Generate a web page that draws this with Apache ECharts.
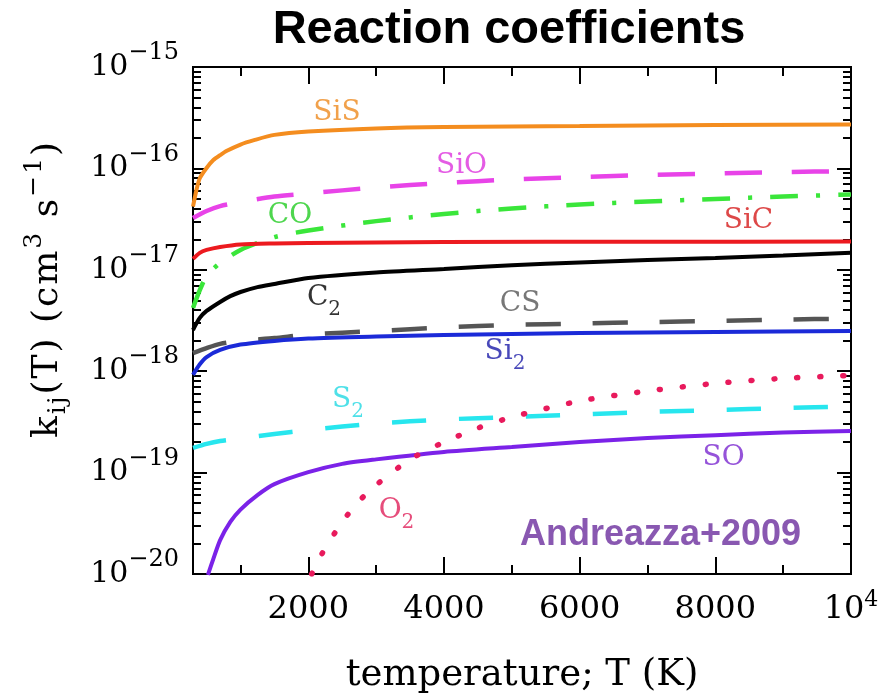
<!DOCTYPE html>
<html><head><meta charset="utf-8">
<script src="https://cdn.jsdelivr.net/npm/echarts@6/dist/echarts.min.js"></script>
<style>html,body{margin:0;padding:0;background:#fff}#c{width:885px;height:699px}</style>
</head><body><div id="c"></div>
<script>
// ---------- data ----------
const xMajorTicks = [2000, 4000, 6000, 8000, 10000];
const xMinorTicks = [1000, 3000, 5000, 7000, 9000];
const yDecades = [1e-20, 1e-19, 1e-18, 1e-17, 1e-16, 1e-15];
const yMinorMult = [2, 3, 4, 5, 6, 7, 8, 9];

const T_SiS = [300, 350, 400, 500, 600, 700, 800, 1000, 1200, 1500, 2000, 3000, 4000, 6000, 8000, 10000];
const k_SiS = [4.2e-17, 6.1e-17, 8.0e-17, 1.01e-16, 1.21e-16, 1.35e-16, 1.49e-16, 1.72e-16, 1.9e-16, 2.14e-16, 2.31e-16, 2.48e-16, 2.56e-16, 2.62e-16, 2.68e-16, 2.71e-16];

const T_SiO = [300, 500, 700, 1000, 1500, 2000, 3000, 4000, 5000, 6000, 7000, 8000, 9000, 10000];
const k_SiO = [3.24e-17, 3.8e-17, 4.25e-17, 4.66e-17, 5.28e-17, 5.66e-17, 6.49e-17, 7.18e-17, 7.77e-17, 8.22e-17, 8.6e-17, 8.9e-17, 9.2e-17, 9.4e-17];

const T_CO = [300, 400, 500, 700, 1000, 1500, 2000, 3000, 4000, 5000, 6000, 7000, 8000, 9000, 10000];
const k_CO = [4.2e-18, 6.3e-18, 8.7e-18, 1.17e-17, 1.57e-17, 2.1e-17, 2.44e-17, 3.02e-17, 3.55e-17, 4.03e-17, 4.41e-17, 4.72e-17, 5.0e-17, 5.28e-17, 5.53e-17];

const T_SiC = [300, 400, 500, 700, 1000, 1500, 2000, 4000, 7000, 10000];
const k_SiC = [1.28e-17, 1.47e-17, 1.57e-17, 1.68e-17, 1.78e-17, 1.82e-17, 1.84e-17, 1.88e-17, 1.89e-17, 1.9e-17];

const T_C2 = [300, 400, 500, 700, 850, 1000, 1250, 1500, 2000, 3000, 4000, 5000, 6000, 7000, 8000, 9000, 10000];
const k_C2 = [2.55e-18, 3.35e-18, 3.93e-18, 4.82e-18, 5.5e-18, 6.04e-18, 6.75e-18, 7.24e-18, 8.3e-18, 9.4e-18, 1.02e-17, 1.11e-17, 1.18e-17, 1.25e-17, 1.31e-17, 1.38e-17, 1.47e-17];

const T_CS = [300, 500, 700, 1000, 1500, 2000, 3000, 4000, 5000, 6000, 7000, 8000, 9000, 10000];
const k_CS = [1.51e-18, 1.69e-18, 1.86e-18, 1.99e-18, 2.12e-18, 2.3e-18, 2.49e-18, 2.7e-18, 2.86e-18, 2.95e-18, 3.05e-18, 3.13e-18, 3.23e-18, 3.3e-18];

const T_Si2 = [300, 400, 500, 700, 1000, 1500, 2000, 3000, 4000, 6000, 8000, 10000];
const k_Si2 = [9.2e-19, 1.17e-18, 1.38e-18, 1.62e-18, 1.83e-18, 1.99e-18, 2.1e-18, 2.2e-18, 2.28e-18, 2.38e-18, 2.44e-18, 2.49e-18];

const T_S2 = [300, 500, 700, 1000, 1500, 2000, 3000, 4000, 5000, 6000, 7000, 8000, 9000, 10000];
const k_S2 = [1.75e-19, 1.92e-19, 2.05e-19, 2.17e-19, 2.4e-19, 2.63e-19, 3.05e-19, 3.34e-19, 3.53e-19, 3.74e-19, 3.96e-19, 4.14e-19, 4.33e-19, 4.49e-19];

const T_SO = [520, 600, 700, 850, 1000, 1250, 1500, 2000, 2500, 3000, 4000, 5000, 6000, 7000, 8000, 9000, 10000];
const k_SO = [9.8e-21, 1.41e-20, 2.16e-20, 3.26e-20, 4.32e-20, 6.0e-20, 7.7e-20, 1.01e-19, 1.22e-19, 1.35e-19, 1.6e-19, 1.79e-19, 2.0e-19, 2.19e-19, 2.34e-19, 2.48e-19, 2.57e-19];

const T_O2 = [2050, 2200, 2500, 2750, 3000, 3500, 4000, 4500, 5000, 6000, 7000, 8000, 9000, 10000];
const k_O2 = [1.0e-20, 1.58e-20, 3.27e-20, 5.25e-20, 7.55e-20, 1.35e-19, 2.0e-19, 2.75e-19, 3.53e-19, 5.08e-19, 6.38e-19, 7.58e-19, 8.5e-19, 9.1e-19];

// curve labels (text, position in data space)
const labelText = ['SiS', 'SiO', 'CO', 'SiC', 'C{sub|2}', 'CS', 'Si{sub|2}', 'S{sub|2}', 'SO', 'O{sub|2}'];
const labelT = [2423, 4258, 1730, 8489, 2231, 5121, 4900, 2585, 8121, 3300];
const labelK = [3.52e-16, 1.06e-16, 3.4e-17, 3.03e-17, 5.27e-18, 4.6e-18, 1.55e-18, 5.2e-19, 1.39e-19, 4.18e-20];
const noteText = 'Andreazza+2009';
const noteT = 7192;
const noteK = 2.4e-20;

// axis titles, split into (style, text) pieces for super/subscripts
const xTitle = 'temperature; T (K)';
const yTitleParts = [['m', 'k'], ['sub', 'ij'], ['m', '(T)'], ['m', ' '], ['m', '(cm'], ['sup', '3'], ['m', ' '], ['m', 's'], ['sup', '\u22121'], ['m', ')']];

// ---------- styles ----------
const SERIF = 'DejaVu Serif';
const curveStyles = [
  {name: 'SiS', T: T_SiS, k: k_SiS, color: '#f48d1f', type: 'solid', width: 4, label: '#ee8a1e'},
  {name: 'SiO', T: T_SiO, k: k_SiO, color: '#e843e8', type: [37, 30], width: 4.5, label: '#dd33dd'},
  {name: 'CO', T: T_CO, k: k_CO, color: '#3ae63a', type: [28, 18, 4, 18], width: 4.5, label: '#22cc22'},
  {name: 'SiC', T: T_SiC, k: k_SiC, color: '#ec1a1f', type: 'solid', width: 4, label: '#d41a1a'},
  {name: 'C2', T: T_C2, k: k_C2, color: '#000000', type: 'solid', width: 4, label: '#000000'},
  {name: 'CS', T: T_CS, k: k_CS, color: '#555555', type: [35, 32], width: 4.5, label: '#555555'},
  {name: 'Si2', T: T_Si2, k: k_Si2, color: '#1b2ad8', type: 'solid', width: 4, label: '#1a1aa8'},
  {name: 'S2', T: T_S2, k: k_S2, color: '#27e6ee', type: [34, 33], width: 4.5, label: '#22d8e2'},
  {name: 'SO', T: T_SO, k: k_SO, color: '#7b22e8', type: 'solid', width: 4, label: '#7a28d0'},
  {name: 'O2', T: T_O2, k: k_O2, color: '#e81a5c', type: [1, 22], width: 5.5, cap: 'round', label: '#e0205a'}
];

const yMinorTicks = [];
yDecades.slice(0, -1).forEach(d => yMinorMult.forEach(m => yMinorTicks.push(m * d)));

const tickLine = {color: '#000', width: 2};

function xAxisDef(pos, ticks, len, labels) {
  return {
    type: 'value', min: 300, max: 10000, position: pos,
    axisLine: {show: false, onZero: false},
    splitLine: {show: false},
    axisTick: {show: true, inside: true, length: len, lineStyle: tickLine, customValues: ticks},
    axisLabel: labels ? {
      show: true, customValues: ticks, margin: 16,
      fontFamily: SERIF, fontSize: 32, color: '#000', lineHeight: 40,
      formatter: v => (v === 10000 ? '10{sup|4}' : String(v)),
      rich: {sup: {fontFamily: SERIF, fontSize: 22, padding: [0, 0, 20, 0]}}
    } : {show: false}
  };
}
function yAxisDef(pos, ticks, len, labels) {
  return {
    type: 'log', logBase: 10, min: 1e-20, max: 1e-15, position: pos,
    axisLine: {show: false, onZero: false},
    splitLine: {show: false},
    minorTick: {show: false},
    axisTick: {show: true, inside: true, length: len, lineStyle: tickLine, customValues: ticks},
    axisLabel: labels ? {
      show: true, customValues: ticks, margin: 14,
      fontFamily: SERIF, fontSize: 30, color: '#000',
      formatter: v => '10{sup|\u2212' + Math.round(-Math.log10(v)) + '}',
      rich: {sup: {fontFamily: SERIF, fontSize: 24, padding: [0, 0, 28, 0]}}
    } : {show: false}
  };
}

const xAxes = [
  xAxisDef('bottom', xMajorTicks, 17, true),
  xAxisDef('bottom', xMinorTicks, 9, false),
  xAxisDef('top', xMajorTicks, 17, false),
  xAxisDef('top', xMinorTicks, 9, false)
];
Object.assign(xAxes[0], {
  name: xTitle, nameLocation: 'middle', nameGap: 83,
  nameTextStyle: {fontFamily: SERIF, fontSize: 37, color: '#000'}
});
const yAxes = [
  yAxisDef('left', yDecades, 14, true),
  yAxisDef('left', yMinorTicks, 8, false),
  yAxisDef('right', yDecades, 14, false),
  yAxisDef('right', yMinorTicks, 8, false)
];

// build the y title as rich text, one token per character (adds letter spacing)
let yTitle = '';
let first = true;
yTitleParts.forEach(([st, txt]) => {
  for (const ch of txt) {
    const style = first ? 'm0' : st;
    first = false;
    yTitle += '{' + style + '|' + ch + '}';
  }
});
Object.assign(yAxes[0], {
  name: yTitle, nameLocation: 'middle', nameGap: 120, nameRotate: 90,
  nameTextStyle: {
    fontFamily: SERIF, fontSize: 36, color: '#000',
    rich: {
      m0: {fontFamily: SERIF, fontSize: 36, padding: [0, 1, 0, 62]},
      m: {fontFamily: SERIF, fontSize: 36, padding: [0, 1, 0, 1]},
      sub: {fontFamily: SERIF, fontSize: 25, padding: [22, 1, 0, 1]},
      sup: {fontFamily: SERIF, fontSize: 25, padding: [0, 1, 26, 1]}
    }
  }
});

const series = curveStyles.map(s => ({
  name: s.name, type: 'line', xAxisIndex: 0, yAxisIndex: 0,
  data: s.T.map((t, i) => [t, s.k[i]]),
  showSymbol: false, symbol: 'none', smooth: 0.25, clip: true, silent: true,
  lineStyle: {color: s.color, width: s.width, type: s.type, cap: s.cap || 'butt'}
}));

const labelData = labelText.map((txt, i) => ({
  value: [labelT[i], labelK[i]],
  label: {formatter: txt, color: curveStyles[i].label}
}));
labelData.push({
  value: [noteT, noteK],
  label: {formatter: noteText, color: '#6c2e9e', fontFamily: 'Liberation Sans', fontWeight: 'bold', fontSize: 36}
});
series.push({
  name: 'labels', type: 'scatter', xAxisIndex: 0, yAxisIndex: 0, silent: true,
  symbol: 'circle', symbolSize: 1, itemStyle: {color: 'rgba(0,0,0,0)'},
  data: labelData, z: 10,
  label: {
    show: true, position: 'inside', fontFamily: SERIF, fontSize: 28,
    rich: {sub: {fontFamily: SERIF, fontSize: 20, padding: [24, 0, 0, 0]}}
  }
});

const chart = echarts.init(document.getElementById('c'), null, {renderer: 'canvas'});
chart.setOption({
  animation: false,
  backgroundColor: '#fff',
  title: {
    text: 'Reaction coefficients', left: 509, top: 7, padding: 0, textAlign: 'center',
    textStyle: {fontFamily: 'Liberation Sans', fontWeight: 'bold', fontSize: 47, color: '#000'}
  },
  grid: {left: 193, right: 34, top: 67, bottom: 125, show: true, borderColor: '#000', borderWidth: 2, backgroundColor: 'rgba(0,0,0,0)'},
  xAxis: xAxes,
  yAxis: yAxes,
  series: series
});
</script>
</body></html>
